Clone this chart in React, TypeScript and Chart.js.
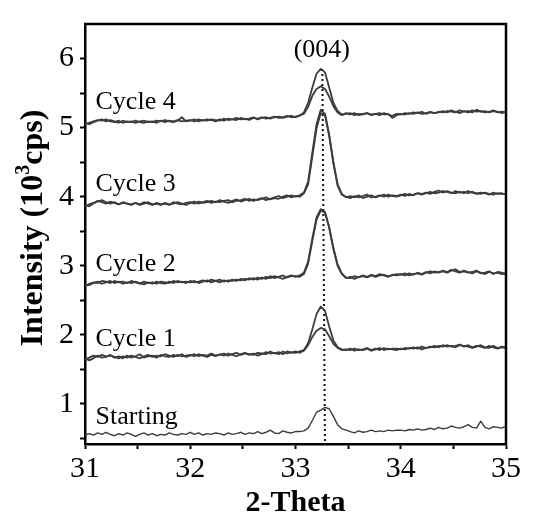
import React, { useEffect, useRef } from "react";
import { Chart, registerables } from "chart.js";

Chart.register(...registerables);

// 2-theta scan grid (degrees)
const THETA_START = 31;
const THETA_STEP = 0.04;
const POINT_COUNT = 101;
const THETA = Array.from({ length: POINT_COUNT }, (_, i) => Number((THETA_START + THETA_STEP * i).toFixed(2)));

// Intensities (10^3 cps)
const STARTING = [
  0.55, 0.57, 0.55, 0.58, 0.56, 0.59, 0.56, 0.54, 0.57, 0.55, 0.58, 0.56, 0.53, 0.56, 0.58, 0.55, 0.57, 0.54, 0.56, 0.55, 0.58, 0.56, 0.55, 0.57, 0.56,
  0.59, 0.56, 0.58, 0.55, 0.57, 0.56, 0.58, 0.57, 0.55, 0.58, 0.56, 0.57, 0.59, 0.56, 0.58, 0.57, 0.60, 0.57, 0.59, 0.62, 0.58, 0.57, 0.61, 0.59, 0.58,
  0.60, 0.60, 0.61, 0.65, 0.76, 0.88, 0.91, 0.95, 0.93, 0.82, 0.70, 0.64, 0.62,
  0.60, 0.58, 0.61, 0.59, 0.60, 0.62, 0.60, 0.61, 0.60, 0.62, 0.61, 0.62,
  0.62, 0.61, 0.63, 0.62, 0.64, 0.62, 0.63, 0.65, 0.63, 0.66, 0.64, 0.65, 0.68, 0.66, 0.65, 0.67, 0.70, 0.66, 0.65, 0.75, 0.66, 0.64, 0.67, 0.66, 0.65, 0.68,
];
const CYCLE1_A = [
  1.64, 1.67, 1.70, 1.68, 1.71, 1.69, 1.70, 1.68, 1.66, 1.69, 1.67, 1.70, 1.68, 1.66, 1.69, 1.71, 1.68, 1.70, 1.69, 1.72, 1.70, 1.68, 1.71, 1.69, 1.70,
  1.71, 1.69, 1.72, 1.70, 1.68, 1.71, 1.69, 1.72, 1.70, 1.73, 1.71, 1.69, 1.72, 1.74, 1.71, 1.73, 1.70, 1.72, 1.75, 1.73, 1.74, 1.72, 1.76, 1.73, 1.75,
  1.74, 1.76, 1.78, 1.88, 2.08, 2.30, 2.41, 2.35, 2.12, 1.92, 1.82, 1.79, 1.78,
  1.80, 1.77, 1.79, 1.78, 1.80, 1.77, 1.79, 1.81, 1.78, 1.80, 1.79, 1.78,
  1.80, 1.79, 1.81, 1.80, 1.82, 1.79, 1.81, 1.83, 1.82, 1.84, 1.83, 1.85, 1.83, 1.84, 1.86, 1.83, 1.85, 1.82, 1.84, 1.83, 1.81, 1.84, 1.82, 1.80, 1.83, 1.82,
];
const CYCLE1_B = [
  1.66, 1.63, 1.66, 1.70, 1.67, 1.68, 1.71, 1.67, 1.69, 1.66, 1.70, 1.67, 1.69, 1.72, 1.67, 1.69, 1.70, 1.67, 1.71, 1.69, 1.68, 1.71, 1.69, 1.72, 1.68,
  1.70, 1.72, 1.69, 1.71, 1.70, 1.73, 1.70, 1.71, 1.73, 1.70, 1.72, 1.74, 1.71, 1.73, 1.72, 1.71, 1.74, 1.73, 1.72, 1.76, 1.73, 1.75, 1.72, 1.76, 1.74,
  1.76, 1.74, 1.77, 1.85, 1.97, 2.06, 2.10, 2.08, 1.98, 1.87, 1.81, 1.78, 1.79,
  1.78, 1.80, 1.78, 1.79, 1.81, 1.78, 1.80, 1.78, 1.81, 1.79, 1.80, 1.80,
  1.79, 1.81, 1.80, 1.82, 1.80, 1.83, 1.81, 1.82, 1.84, 1.82, 1.85, 1.83, 1.84, 1.82, 1.85, 1.84, 1.83, 1.81, 1.83, 1.85, 1.82, 1.81, 1.84, 1.81, 1.82, 1.81,
];
const CYCLE2_A = [
  2.70, 2.74, 2.76, 2.75, 2.78, 2.77, 2.75, 2.78, 2.76, 2.77, 2.75, 2.78, 2.76, 2.74, 2.77, 2.75, 2.76, 2.74, 2.77, 2.76, 2.75, 2.78, 2.76, 2.77, 2.75,
  2.78, 2.76, 2.77, 2.79, 2.77, 2.80, 2.78, 2.76, 2.79, 2.77, 2.80, 2.78, 2.81, 2.79, 2.82, 2.80, 2.83, 2.81, 2.84, 2.82, 2.85, 2.83, 2.81, 2.84, 2.86,
  2.84, 2.86, 2.90, 3.06, 3.40, 3.70, 3.82, 3.78, 3.55, 3.24, 3.00, 2.88, 2.83,
  2.82, 2.85, 2.83, 2.86, 2.84, 2.87, 2.85, 2.88, 2.86, 2.84, 2.87, 2.86,
  2.88, 2.86, 2.89, 2.87, 2.90, 2.88, 2.91, 2.89, 2.92, 2.90, 2.93, 2.91, 2.94, 2.92, 2.90, 2.93, 2.91, 2.89, 2.92, 2.90, 2.88, 2.91, 2.89, 2.90, 2.88, 2.89,
];
const CYCLE2_B = [
  2.73, 2.72, 2.75, 2.77, 2.74, 2.76, 2.78, 2.75, 2.77, 2.74, 2.76, 2.75, 2.77, 2.75, 2.73, 2.76, 2.74, 2.77, 2.75, 2.74, 2.77, 2.75, 2.78, 2.76, 2.77,
  2.76, 2.78, 2.75, 2.77, 2.79, 2.76, 2.78, 2.80, 2.77, 2.79, 2.78, 2.80, 2.79, 2.81, 2.80, 2.82, 2.80, 2.83, 2.81, 2.85, 2.82, 2.84, 2.86, 2.83, 2.85,
  2.85, 2.84, 2.88, 3.03, 3.36, 3.67, 3.80, 3.77, 3.56, 3.26, 3.02, 2.89, 2.82,
  2.84, 2.81, 2.84, 2.85, 2.83, 2.86, 2.84, 2.86, 2.87, 2.85, 2.86, 2.88,
  2.87, 2.89, 2.86, 2.88, 2.89, 2.87, 2.90, 2.92, 2.90, 2.91, 2.92, 2.90, 2.93, 2.95, 2.91, 2.92, 2.90, 2.91, 2.93, 2.89, 2.90, 2.92, 2.88, 2.91, 2.90, 2.88,
];
const CYCLE3_A = [
  3.86, 3.89, 3.91, 3.93, 3.95, 3.92, 3.90, 3.92, 3.89, 3.91, 3.90, 3.88, 3.91, 3.89, 3.92, 3.90, 3.88, 3.91, 3.89, 3.90, 3.88, 3.92, 3.90, 3.89, 3.91,
  3.92, 3.90, 3.93, 3.91, 3.92, 3.94, 3.92, 3.95, 3.93, 3.91, 3.94, 3.96, 3.93, 3.95, 3.97, 3.94, 3.96, 3.98, 3.95, 3.97, 3.99, 4.01, 3.98, 4.00, 4.02,
  4.00, 4.02, 4.06, 4.22, 4.64, 5.05, 5.26, 5.20, 4.90, 4.50, 4.18, 4.04, 3.99,
  4.01, 3.99, 4.02, 3.98, 4.00, 4.02, 3.99, 4.01, 4.03, 4.00, 4.02, 4.01,
  4.03, 4.01, 4.04, 4.02, 4.05, 4.03, 4.06, 4.04, 4.07, 4.09, 4.06, 4.08, 4.06, 4.05, 4.07, 4.05, 4.08, 4.06, 4.04, 4.06, 4.05, 4.03, 4.06, 4.04, 4.05, 4.03,
];
const CYCLE3_B = [
  3.88, 3.86, 3.90, 3.94, 3.92, 3.90, 3.93, 3.91, 3.89, 3.92, 3.90, 3.89, 3.91, 3.88, 3.90, 3.92, 3.89, 3.90, 3.88, 3.91, 3.89, 3.90, 3.92, 3.90, 3.88,
  3.91, 3.93, 3.90, 3.92, 3.94, 3.91, 3.93, 3.92, 3.94, 3.95, 3.92, 3.94, 3.95, 3.97, 3.94, 3.96, 3.95, 3.97, 3.99, 3.96, 3.98, 3.97, 4.00, 4.02, 3.99,
  4.01, 4.00, 4.05, 4.18, 4.58, 4.99, 5.21, 5.18, 4.88, 4.48, 4.16, 4.03, 4.00,
  3.98, 4.01, 3.99, 4.01, 4.03, 3.99, 4.00, 4.02, 4.00, 4.03, 4.01, 4.00,
  4.02, 4.04, 4.02, 4.03, 4.05, 4.04, 4.05, 4.07, 4.05, 4.06, 4.08, 4.07, 4.05, 4.08, 4.06, 4.07, 4.05, 4.07, 4.05, 4.04, 4.06, 4.04, 4.03, 4.05, 4.04, 4.04,
];
const CYCLE4_A = [
  5.05, 5.07, 5.09, 5.11, 5.10, 5.12, 5.09, 5.08, 5.10, 5.07, 5.09, 5.08, 5.10, 5.08, 5.07, 5.09, 5.08, 5.10, 5.09, 5.11, 5.09, 5.08, 5.10, 5.15, 5.09,
  5.10, 5.12, 5.09, 5.11, 5.10, 5.12, 5.11, 5.10, 5.13, 5.11, 5.12, 5.14, 5.12, 5.13, 5.11, 5.14, 5.13, 5.15, 5.13, 5.14, 5.16, 5.14, 5.15, 5.17, 5.15,
  5.16, 5.17, 5.22, 5.36, 5.58, 5.78, 5.85, 5.80, 5.58, 5.36, 5.24, 5.19, 5.20,
  5.21, 5.18, 5.20, 5.19, 5.21, 5.18, 5.20, 5.21, 5.19, 5.20, 5.14, 5.18,
  5.20, 5.19, 5.21, 5.20, 5.22, 5.20, 5.21, 5.23, 5.21, 5.22, 5.24, 5.22, 5.25, 5.23, 5.21, 5.24, 5.22, 5.25, 5.23, 5.24, 5.22, 5.23, 5.25, 5.22, 5.23, 5.22,
];
const CYCLE4_B = [
  5.07, 5.05, 5.08, 5.10, 5.12, 5.09, 5.11, 5.09, 5.07, 5.10, 5.08, 5.09, 5.07, 5.09, 5.10, 5.08, 5.09, 5.07, 5.10, 5.08, 5.10, 5.09, 5.11, 5.09, 5.10,
  5.11, 5.09, 5.12, 5.10, 5.12, 5.11, 5.09, 5.12, 5.10, 5.13, 5.12, 5.11, 5.14, 5.12, 5.13, 5.15, 5.12, 5.14, 5.15, 5.13, 5.15, 5.16, 5.14, 5.16, 5.17,
  5.15, 5.18, 5.20, 5.30, 5.46, 5.56, 5.60, 5.56, 5.45, 5.31, 5.22, 5.18, 5.21,
  5.19, 5.21, 5.18, 5.20, 5.21, 5.19, 5.20, 5.18, 5.21, 5.19, 5.17, 5.20,
  5.19, 5.21, 5.20, 5.22, 5.21, 5.23, 5.20, 5.22, 5.21, 5.23, 5.22, 5.24, 5.23, 5.22, 5.25, 5.23, 5.24, 5.22, 5.26, 5.23, 5.24, 5.22, 5.24, 5.23, 5.21, 5.23,
];

// Curve labels (text, anchor in data coordinates)
const CURVE_LABELS = ["Starting", "Cycle 1", "Cycle 2", "Cycle 3", "Cycle 4"];
const CURVE_LABEL_Y = [0.715, 1.845, 2.92, 4.08, 5.27];
const CURVE_LABEL_X = 31.1;
const PEAK_LABEL = "(004)";
const PEAK_LABEL_X = 33.25;
const PEAK_LABEL_Y = 6.02;

// (004) reference line
const REF_LINE_X = [33.255, 33.28];
const REF_LINE_Y = [5.85, 0.42];

// Axes
const X_MIN = 31;
const X_MAX = 35;
const Y_MIN = 0.42;
const Y_MAX = 6.5;
const X_TICKS = [31, 31.5, 32, 32.5, 33, 33.5, 34, 34.5, 35];
const Y_TICKS = [0.5, 1, 1.5, 2, 2.5, 3, 3.5, 4, 4.5, 5, 5.5, 6];
const X_TITLE = "2-Theta";
const Y_TITLE_MAIN = "Intensity (10";
const Y_TITLE_SUP = "3";
const Y_TITLE_END = "cps)";

const SERIF = '"Liberation Serif", "Times New Roman", Times, serif';
const LINE_COLOR = "#3c3c3c";

const toPoints = (ys: number[]) => ys.map((v, i) => ({ x: THETA[i], y: v }));

const decorPlugin = {
  id: "decor",
  afterDraw(chart: any) {
    const { ctx, chartArea: a } = chart;
    const xs = chart.scales.x;
    const ys = chart.scales.y;
    ctx.save();
    ctx.fillStyle = "#000";
    ctx.textBaseline = "alphabetic";

    ctx.font = `26px ${SERIF}`;
    ctx.textAlign = "left";
    CURVE_LABELS.forEach((t, i) => {
      ctx.fillText(t, xs.getPixelForValue(CURVE_LABEL_X), ys.getPixelForValue(CURVE_LABEL_Y[i]));
    });
    ctx.textAlign = "center";
    ctx.fillText(PEAK_LABEL, xs.getPixelForValue(PEAK_LABEL_X), ys.getPixelForValue(PEAK_LABEL_Y));

    // frame top & right
    ctx.strokeStyle = "#000";
    ctx.lineWidth = 2.5;
    ctx.beginPath();
    ctx.moveTo(a.left - 1, a.top);
    ctx.lineTo(a.right, a.top);
    ctx.lineTo(a.right, a.bottom + 1);
    ctx.stroke();

    // x title
    ctx.font = `bold 30px ${SERIF}`;
    ctx.textAlign = "center";
    ctx.fillText(X_TITLE, (a.left + a.right) / 2, 511);

    // y title (rotated, with superscript)
    ctx.translate(42, (a.top + a.bottom) / 2 - 6);
    ctx.rotate(-Math.PI / 2);
    ctx.textAlign = "left";
    const mainFont = `bold 32px ${SERIF}`;
    const supFont = `bold 20px ${SERIF}`;
    ctx.font = mainFont;
    const w1 = ctx.measureText(Y_TITLE_MAIN).width;
    const w3 = ctx.measureText(Y_TITLE_END).width;
    ctx.font = supFont;
    const w2 = ctx.measureText(Y_TITLE_SUP).width;
    const start = -(w1 + w2 + w3) / 2;
    ctx.font = mainFont;
    ctx.fillText(Y_TITLE_MAIN, start, 0);
    ctx.font = supFont;
    ctx.fillText(Y_TITLE_SUP, start + w1, -13);
    ctx.font = mainFont;
    ctx.fillText(Y_TITLE_END, start + w1 + w2, 0);
    ctx.restore();
  },
};

export default function App() {
  const ref = useRef<HTMLCanvasElement | null>(null);
  useEffect(() => {
    if (!ref.current) return;
    const series = [
      { d: STARTING, w: 1.4 },
      { d: CYCLE1_A, w: 1.8 },
      { d: CYCLE1_B, w: 1.8 },
      { d: CYCLE2_A, w: 1.8 },
      { d: CYCLE2_B, w: 1.8 },
      { d: CYCLE3_A, w: 1.8 },
      { d: CYCLE3_B, w: 1.8 },
      { d: CYCLE4_A, w: 1.8 },
      { d: CYCLE4_B, w: 1.8 },
    ];
    const datasets: any[] = series.map((s) => ({
      data: toPoints(s.d),
      borderColor: LINE_COLOR,
      borderWidth: s.w,
      pointRadius: 0,
      tension: 0,
      fill: false,
      borderJoinStyle: "round",
    }));
    datasets.push({
      data: REF_LINE_X.map((x, i) => ({ x, y: REF_LINE_Y[i] })),
      borderColor: "#111",
      borderWidth: 2,
      borderDash: [2, 3],
      pointRadius: 0,
      fill: false,
    });
    const tickFont = { family: SERIF, size: 30 };
    const chart = new Chart(ref.current, {
      type: "line",
      data: { datasets },
      options: {
        responsive: false,
        animation: false,
        events: [],
        layout: { padding: { left: 0, top: 14, right: 30, bottom: 0 } },
        plugins: { legend: { display: false }, tooltip: { enabled: false } },
        scales: {
          x: {
            type: "linear",
            min: X_MIN,
            max: X_MAX,
            afterBuildTicks: (s: any) => {
              s.ticks = X_TICKS.map((v) => ({ value: v }));
            },
            afterFit: (s: any) => {
              s.height = 68;
            },
            ticks: {
              font: tickFont,
              color: "#000",
              padding: 2,
              maxRotation: 0,
              autoSkip: false,
              callback: (v: any) => (Number.isInteger(Number(v)) ? String(v) : ""),
            },
            grid: { display: true, drawOnChartArea: false, drawTicks: true, tickLength: 5, tickWidth: 2, color: "#000" },
            border: { display: true, color: "#000", width: 2.5 },
          },
          y: {
            type: "linear",
            min: Y_MIN,
            max: Y_MAX,
            afterBuildTicks: (s: any) => {
              s.ticks = Y_TICKS.map((v) => ({ value: v }));
            },
            afterFit: (s: any) => {
              s.width = 85;
            },
            ticks: {
              font: tickFont,
              color: "#000",
              padding: 6,
              autoSkip: false,
              callback: (v: any) => (Number.isInteger(Number(v)) ? String(v) : ""),
            },
            grid: { display: true, drawOnChartArea: false, drawTicks: true, tickLength: 5, tickWidth: 2, color: "#000" },
            border: { display: true, color: "#000", width: 2.5 },
          },
        },
      },
      plugins: [decorPlugin],
    });
    return () => chart.destroy();
  }, []);
  return (
    <div style={{ position: "absolute", left: 0, top: 0, width: 536, height: 512, background: "#fff" }}>
      <canvas ref={ref} width={536} height={512} style={{ display: "block" }} />
    </div>
  );
}
